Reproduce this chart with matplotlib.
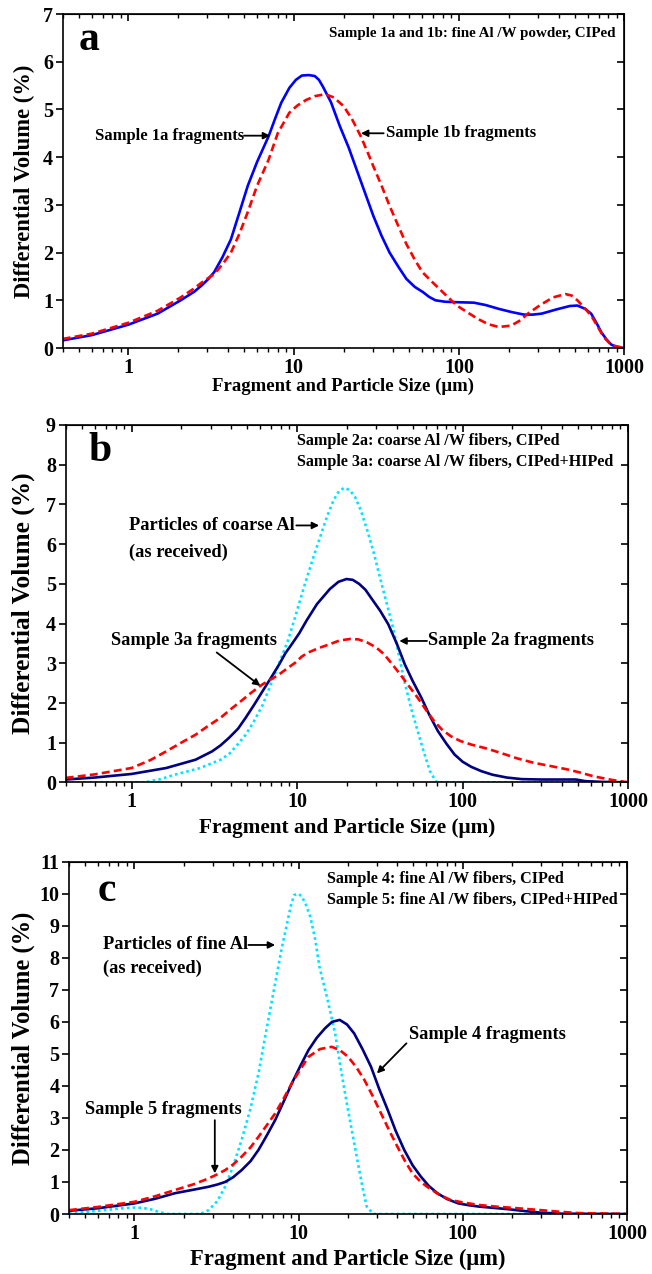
import matplotlib
matplotlib.use("Agg")
import matplotlib.pyplot as plt
from matplotlib.ticker import NullFormatter

plt.rcParams["font.family"] = ["Liberation Serif", "DejaVu Serif"]
plt.rcParams["font.weight"] = "bold"

# ---- panel a: fine Al/W powder ----
a1_x = [0.4, 0.6, 1.0, 1.5, 2.07, 2.5, 2.77, 3.05, 3.3, 3.7, 4.17, 4.7, 5.27, 6.0, 7.05, 7.7,
        8.4, 9.4, 10.3, 11.2, 12.3, 13.4, 14.2, 15.0, 16.8, 19.0, 21.5, 24.0, 27.0, 30.3, 34.0,
        38.0, 43.0, 48.0, 54.0, 60.6, 66.0, 72.0, 82.0, 97.0, 123.0, 145.0, 174.0, 210.0,
        247.0, 280.0, 316.0, 390.0, 468.0, 520.0, 580.0, 630.0, 680.0, 726.0, 780.0, 835.0,
        900.0, 1000.0]
a1_y = [0.16, 0.27, 0.49, 0.72, 1.0, 1.18, 1.31, 1.45, 1.59, 1.9, 2.28, 2.85, 3.4, 3.9, 4.44, 4.8,
        5.14, 5.45, 5.62, 5.71, 5.72, 5.7, 5.62, 5.48, 5.15, 4.65, 4.2, 3.74, 3.25, 2.77, 2.35,
        2.0, 1.7, 1.45, 1.28, 1.17, 1.07, 1.0, 0.97, 0.96, 0.95, 0.9, 0.82, 0.75,
        0.70, 0.70, 0.72, 0.81, 0.88, 0.89, 0.82, 0.72, 0.52, 0.33, 0.18, 0.07,
        0.02, 0.0]
a2_x = [0.4, 0.6, 1.0, 1.5, 2.07, 2.5, 2.77, 3.3, 3.7, 4.17, 4.7, 5.27, 6.0, 7.05, 8.0, 9.4,
        10.5, 11.9, 13.5, 15.5, 17.5, 20.0, 22.5, 25.4, 28.0, 30.3, 34.0, 38.0, 43.0, 48.0,
        54.0, 60.0, 68.0, 76.0, 86.0, 97.0, 112.0, 130.0, 150.0, 174.0, 207.0, 235.0, 261.0,
        310.0, 370.0, 440.0, 480.0, 520.0, 570.0, 630.0, 690.0, 750.0, 835.0, 1000.0]
a2_y = [0.19, 0.30, 0.53, 0.78, 1.06, 1.25, 1.37, 1.55, 1.75, 2.0, 2.4, 2.85, 3.4, 3.95, 4.5, 4.93,
        5.08, 5.2, 5.28, 5.32, 5.25, 5.07, 4.8, 4.44, 4.1, 3.81, 3.4, 2.98, 2.55, 2.18,
        1.85, 1.59, 1.4, 1.24, 1.06, 0.89, 0.75, 0.61, 0.5, 0.44, 0.47, 0.58, 0.72,
        0.9, 1.06, 1.13, 1.1, 1.0, 0.85, 0.68, 0.45, 0.23, 0.06, 0.0]

# ---- panel b: coarse Al/W fibers ----
b_al_x = [0.4, 1.21, 1.5, 1.82, 2.6, 3.46, 3.9, 4.37, 4.9, 5.5, 6.2, 6.95, 7.8, 8.8, 9.8, 11.0,
          12.4, 14.0, 15.2, 16.6, 17.9, 19.3, 20.8, 22.4, 24.3, 26.6, 29.0, 31.7, 34.6, 38.0,
          41.3, 45.0, 49.0, 53.6, 58.0, 63.6, 69.6, 1000.0]
b_al_y = [0.0, 0.0, 0.08, 0.19, 0.36, 0.57, 0.72, 0.95, 1.2, 1.54, 1.95, 2.47, 3.0, 3.56, 4.2, 4.91,
          5.6, 6.26, 6.7, 7.1, 7.33, 7.42, 7.36, 7.19, 6.85, 6.34, 5.8, 5.16, 4.55, 3.9,
          3.2, 2.47, 1.85, 1.29, 0.8, 0.28, 0.0, 0.0]
b2_x = [0.4, 0.6, 1.0, 1.62, 2.44, 3.07, 3.45, 3.88, 4.4, 4.9, 5.5, 6.2, 7.0, 7.8, 8.5, 9.3,
        10.3, 11.4, 13.2, 15.8, 17.8, 19.9, 21.7, 23.7, 25.9, 28.3, 31.8, 35.6, 40.0, 44.8,
        50.0, 56.4, 63.0, 71.0, 80.0, 89.5, 100.0, 112.8, 130.0, 152.0, 185.0, 228.0, 300.0,
        485.0, 550.0, 700.0, 1000.0]
b2_y = [0.07, 0.12, 0.21, 0.36, 0.57, 0.78, 0.93, 1.12, 1.35, 1.63, 1.95, 2.3, 2.65, 2.97, 3.25, 3.48,
        3.75, 4.07, 4.49, 4.87, 5.05, 5.12, 5.1, 5.0, 4.85, 4.62, 4.32, 3.98, 3.5, 2.97,
        2.55, 2.13, 1.7, 1.29, 0.97, 0.70, 0.52, 0.39, 0.28, 0.19, 0.12, 0.08, 0.07,
        0.07, 0.03, 0.01, 0.0]
b3_x = [0.4, 0.6, 1.0, 1.3, 1.62, 2.0, 2.44, 2.9, 3.46, 4.0, 4.6, 5.3, 6.2, 7.0, 7.8, 8.8,
        9.8, 10.7, 11.7, 13.5, 15.8, 18.0, 20.9, 23.5, 26.6, 30.0, 33.5, 37.5, 42.0, 47.5,
        53.6, 60.0, 67.4, 75.0, 85.0, 97.0, 113.0, 140.0, 170.0, 215.0, 270.0, 350.0, 435.0,
        520.0, 620.0, 800.0, 1000.0]
b3_y = [0.11, 0.2, 0.36, 0.56, 0.78, 1.0, 1.2, 1.42, 1.63, 1.85, 2.05, 2.26, 2.47, 2.6, 2.72, 2.88,
        3.02, 3.17, 3.27, 3.38, 3.48, 3.57, 3.61, 3.6, 3.52, 3.4, 3.23, 2.98, 2.72, 2.42,
        2.13, 1.83, 1.54, 1.33, 1.16, 1.04, 0.95, 0.85, 0.74, 0.6, 0.49, 0.4, 0.32,
        0.24, 0.15, 0.06, 0.0]

# ---- panel c: fine Al/W fibers ----
c_al_x = [0.4, 0.5, 0.66, 0.8, 1.0, 1.12, 1.25, 1.4, 1.58, 2.52, 2.83, 3.2, 3.57, 4.0, 4.5, 5.1,
          5.7, 6.4, 7.2, 7.9, 8.6, 9.0, 9.4, 10.0, 10.5, 11.1, 11.8, 12.6, 13.4, 15.0, 16.7,
          18.0, 19.5, 21.3, 23.2, 24.6, 26.0, 28.5, 1000.0]
c_al_y = [0.02, 0.06, 0.12, 0.17, 0.2, 0.19, 0.15, 0.07, 0.0, 0.0, 0.12, 0.4, 0.85, 1.5, 2.31, 3.3,
          4.39, 5.8, 7.2, 8.3, 9.18, 9.65, 9.96, 10.0, 9.9, 9.65, 9.27, 8.6, 7.72, 6.7, 5.64,
          4.6, 3.56, 2.5, 1.48, 0.8, 0.23, 0.0, 0.0]
c4_x = [0.4, 0.6, 1.0, 1.35, 1.77, 2.3, 2.83, 3.2, 3.57, 4.0, 4.5, 5.1, 5.7, 6.4, 7.2, 8.1,
        9.1, 10.2, 11.5, 12.9, 14.5, 16.0, 17.8, 19.7, 21.8, 24.5, 27.6, 31.0, 34.9, 39.0,
        44.0, 49.5, 55.5, 62.0, 70.0, 80.0, 94.0, 110.0, 126.0, 155.0, 189.0, 240.0, 300.0,
        400.0, 1000.0]
c4_y = [0.1, 0.18, 0.33, 0.48, 0.65, 0.76, 0.85, 0.92, 1.0, 1.15, 1.37, 1.65, 2.0, 2.45, 2.93, 3.5,
        4.08, 4.6, 5.12, 5.5, 5.8, 6.0, 6.06, 5.92, 5.64, 5.15, 4.6, 3.9, 3.25, 2.6,
        2.0, 1.52, 1.17, 0.88, 0.65, 0.47, 0.33, 0.27, 0.23, 0.19, 0.15, 0.09, 0.04,
        0.01, 0.0]
c5_x = [0.4, 0.6, 1.0, 1.35, 1.77, 2.3, 2.83, 3.2, 3.57, 4.0, 4.5, 5.1, 5.7, 6.4, 7.2, 8.1,
        9.1, 10.2, 11.5, 13.5, 15.9, 17.8, 20.0, 22.5, 25.2, 28.3, 31.8, 35.7, 40.0, 44.5,
        49.4, 55.5, 62.6, 72.0, 84.0, 100.0, 126.0, 160.0, 215.0, 300.0, 390.0, 500.0, 1000.0]
c5_y = [0.12, 0.22, 0.38, 0.56, 0.75, 0.93, 1.11, 1.24, 1.37, 1.55, 1.79, 2.08, 2.41, 2.77, 3.14, 3.6,
        4.08, 4.5, 4.91, 5.15, 5.22, 5.12, 4.91, 4.58, 4.18, 3.68, 3.14, 2.6, 2.1, 1.65,
        1.27, 1.0, 0.8, 0.6, 0.44, 0.36, 0.28, 0.23, 0.18, 0.12, 0.07, 0.03, 0.0]

W, H = 652, 1274
BLUE = "#0000ff"
NAVY = "#000080"
RED = "#ff0000"
CYAN = "#00e5ff"
LW = 1.9
DASH = (0, (3, 1.6))
DOT = (0, (1, 1.2))

fig = plt.figure(figsize=(W / 100, H / 100), dpi=100)


def px_axes(left, top, right, bottom):
    return fig.add_axes([left / W, 1 - bottom / H, (right - left) / W, (bottom - top) / H])


def style(ax, ymax, left_px, width_px, xlabel_size, xlabel_y, ylabel_size):
    ax.set_xscale("log")
    ax.set_xlim(0.4, 1000)
    ax.set_ylim(0, ymax)
    ax.set_xticks([1, 10, 100, 1000])
    ax.set_xticklabels(["1", "10", "100", "1000"])
    ax.set_yticks(range(0, ymax + 1))
    ax.tick_params(axis="both", which="major", direction="out", length=5, width=1.2,
                   labelsize=14.5, pad=2)
    ax.tick_params(axis="x", which="minor", direction="out", length=3, width=1.0)
    for t in ax.get_xticklabels() + ax.get_yticklabels():
        t.set_fontweight("bold")
    for sp in ax.spines.values():
        sp.set_linewidth(1.2)
    top = ax.secondary_xaxis("top")
    top.set_xticks([1, 10, 100, 1000])
    top.tick_params(which="major", direction="in", length=5, width=1.2, labeltop=False)
    top.tick_params(which="minor", direction="in", length=3, width=1.0)
    top.xaxis.set_minor_formatter(NullFormatter())
    right = ax.secondary_yaxis("right")
    right.set_yticks(range(0, ymax + 1))
    right.tick_params(direction="in", length=5, width=1.2, labelright=False)
    ax.set_xlabel("Fragment and Particle Size (\u03bcm)", fontsize=xlabel_size,
                  fontweight="bold")
    ax.xaxis.set_label_coords(0.5, xlabel_y)
    ax.set_ylabel("Differential Volume (%)", fontsize=ylabel_size, fontweight="bold")
    ax.yaxis.set_label_coords(-(left_px - 35) / width_px, 0.5)


def arrow(ax, text_xy, tip_xy):
    ax.annotate("", xy=tip_xy, xytext=text_xy,
                arrowprops=dict(arrowstyle="-|>", color="black", lw=1.3,
                                mutation_scale=10, shrinkA=0, shrinkB=0))


lab_a = dict(fontsize=12, fontweight="bold")
lab = dict(fontsize=13.2, fontweight="bold")
note_a = dict(fontsize=10.8, fontweight="bold")
note = dict(fontsize=11.6, fontweight="bold")

# panel a
ax = px_axes(62.7, 14, 624.3, 348)
ax.plot(a1_x, a1_y, color=BLUE, lw=LW, solid_joinstyle="round")
ax.plot(a2_x, a2_y, color=RED, lw=LW, ls=DASH)
style(ax, 7, 62.7, 561.6, 13.5, -0.088, 16.3)
ax.text(0.5, 6.45, "a", fontsize=30, fontweight="bold", ha="left", va="center")
ax.text(890, 6.6, "Sample 1a and 1b: fine Al /W powder, CIPed", ha="right", va="center", **note_a)
ax.text(5.0, 4.45, "Sample 1a fragments", ha="right", va="center", **lab_a)
arrow(ax, (5.0, 4.45), (7.2, 4.45))
ax.text(36, 4.5, "Sample 1b fragments", ha="left", va="center", **lab_a)
arrow(ax, (35, 4.5), (25.5, 4.5))

# panel b
ax = px_axes(65.7, 425, 628, 782.3)
ax.plot(b_al_x, b_al_y, color=CYAN, lw=LW, ls=DOT)
ax.plot(b2_x, b2_y, color=NAVY, lw=LW)
ax.plot(b3_x, b3_y, color=RED, lw=LW, ls=DASH)
style(ax, 9, 65.7, 562.3, 15.3, -0.1, 18.3)
ax.text(0.55, 8.35, "b", fontsize=30, fontweight="bold", ha="left", va="center")
ax.text(10, 8.6, "Sample 2a: coarse Al /W fibers, CIPed", ha="left", va="center", **note)
ax.text(10, 8.07, "Sample 3a: coarse Al /W fibers, CIPed+HIPed", ha="left", va="center", **note)
ax.text(0.97, 6.47, "Particles of coarse Al", ha="left", va="center", **lab)
arrow(ax, (9.9, 6.47), (13.6, 6.47))
ax.text(0.97, 5.8, "(as received)", ha="left", va="center", **lab)
ax.text(0.75, 3.56, "Sample 3a fragments", ha="left", va="center", **lab)
arrow(ax, (3.27, 3.27), (6.0, 2.43))
ax.text(62, 3.56, "Sample 2a fragments", ha="left", va="center", **lab)
arrow(ax, (61, 3.56), (41.5, 3.56))

# panel c
ax = px_axes(69, 861.7, 627, 1214)
ax.plot(c_al_x, c_al_y, color=CYAN, lw=LW, ls=DOT)
ax.plot(c4_x, c4_y, color=NAVY, lw=LW)
ax.plot(c5_x, c5_y, color=RED, lw=LW, ls=DASH)
style(ax, 11, 69, 558, 16.3, -0.1, 17.7)
ax.text(0.6, 10.1, "c", fontsize=30, fontweight="bold", ha="left", va="center")
ax.text(15, 10.45, "Sample 4: fine Al /W fibers, CIPed", ha="left", va="center", **note)
ax.text(15, 9.8, "Sample 5: fine Al /W fibers, CIPed+HIPed", ha="left", va="center", **note)
ax.text(0.645, 8.4, "Particles of fine Al", ha="left", va="center", **lab)
arrow(ax, (4.95, 8.4), (7.2, 8.4))
ax.text(0.645, 7.67, "(as received)", ha="left", va="center", **lab)
ax.text(47, 5.59, "Sample 4 fragments", ha="left", va="center", **lab)
arrow(ax, (45.4, 5.33), (30, 4.39))
ax.text(0.5, 3.25, "Sample 5 fragments", ha="left", va="center", **lab)
arrow(ax, (3.09, 2.93), (3.09, 1.27))

fig.savefig("out.png", dpi=100)
